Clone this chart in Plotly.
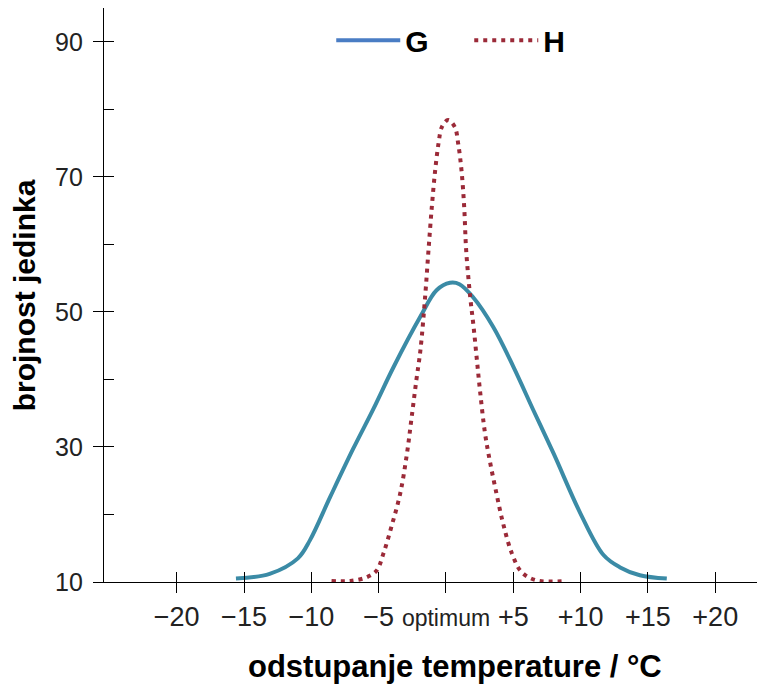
import plotly.graph_objects as go

# Krivulja G (široka tolerancija)
g_x = [-15.6, -13.1, -11.0, -10.1, -8.6, -6.9, -5.4, -3.9, -1.9, -0.7, 0.3,
       1.0, 2.0, 3.5, 5.0, 6.5, 8.0, 10.0, 11.7, 12.9, 14.4, 16.4]
g_y = [10.5, 11.2, 13.5, 16.2, 22.6, 29.7, 35.6, 41.8, 49.3, 53.2, 54.3,
       54.1, 52.2, 47.8, 41.9, 35.4, 29.0, 20.1, 14.0, 12.2, 11.0, 10.5]

# Krivulja H (uska tolerancija)
h_x = [-8.5, -7.1, -5.9, -5.15, -4.65, -4.05, -3.4, -2.9, -2.55, -2.2, -1.9,
       -1.55, -1.3, -1.05, -0.8, -0.55, -0.3, 0.15, 0.65, 0.9, 1.15, 1.35,
       1.5, 1.8, 2.05, 2.3, 2.55, 2.9, 3.25, 3.75, 4.25, 4.9, 5.6, 6.7, 8.85]
h_y = [10.15, 10.15, 10.7, 11.7, 14.2, 18.2, 23.1, 29.0, 34.4, 39.9, 44.3,
       52.2, 59.1, 65.6, 71.0, 75.0, 77.4, 78.4, 77.4, 75.0, 71.0, 65.6,
       59.1, 52.2, 47.8, 42.8, 37.9, 32.0, 28.0, 23.1, 18.6, 14.2, 11.5, 10.25, 10.15]

# Osi
x_ticks = [-20, -15, -10, -5, 0, 5, 10, 15, 20]
x_labels = ["\u221220", "\u221215", "\u221210", "\u22125",
            "<span style='font-size:23px'>optimum</span>",
            "+5", "+10", "+15", "+20"]
y_ticks = [10, 20, 30, 40, 50, 60, 70, 80, 90]
y_labels = ["10", "", "30", "", "50", "", "70", "", "90"]

X_RANGE = [-25.4, 23.1]
Y_RANGE = [10, 95]

G_COLOR = "#3b8ba6"
G_LEGEND = "#4a7dc4"
H_COLOR = "#9b2a38"
FONT = "Liberation Sans, Arial, sans-serif"
H_DASH = "4px,5px"

fig = go.Figure()

fig.add_trace(go.Scatter(x=g_x, y=g_y, mode="lines", line_shape="spline",
                         line=dict(color=G_COLOR, width=4), showlegend=False))
fig.add_trace(go.Scatter(x=h_x, y=h_y, mode="lines", line_shape="spline",
                         line=dict(color=H_COLOR, width=4, dash=H_DASH),
                         showlegend=False))

# samo za legendu (linija G u legendi je plavlja od krivulje)
fig.add_trace(go.Scatter(x=[None], y=[None], mode="lines", name="<b>G</b>",
                         line=dict(color=G_LEGEND, width=4)))
fig.add_trace(go.Scatter(x=[None], y=[None], mode="lines", name="<b>H</b>",
                         line=dict(color=H_COLOR, width=4, dash=H_DASH)))

tick_style = dict(ticklen=10, tickwidth=1.3, tickcolor="black")

fig.update_layout(
    width=767, height=690,
    margin=dict(l=96, r=18, t=0, b=116),
    paper_bgcolor="white", plot_bgcolor="white",
    font=dict(family=FONT, color="#222222"),
    # crtice prelaze preko osi: glavne prema van, "minor" na istim mjestima prema unutra
    xaxis=dict(range=X_RANGE, tickvals=x_ticks, ticktext=x_labels, ticks="outside",
               minor=dict(ticks="inside", tickmode="array", tickvals=x_ticks, **tick_style),
               showline=True, linecolor="black", linewidth=1.3,
               showgrid=False, zeroline=False,
               tickfont=dict(size=27, color="#222222"), **tick_style),
    yaxis=dict(range=Y_RANGE, tickvals=y_ticks, ticktext=y_labels, ticks="outside",
               minor=dict(ticks="inside", tickmode="array", tickvals=y_ticks, **tick_style),
               showline=True, linecolor="black", linewidth=1.3,
               showgrid=False, zeroline=False,
               tickfont=dict(size=25, color="#222222"), ticklabelstandoff=5,
               **tick_style),
    legend=dict(orientation="h", x=0.348, y=0.944, xanchor="left", yanchor="middle",
                font=dict(size=30, color="black", family=FONT),
                itemwidth=64, entrywidth=59, entrywidthmode="pixels",
                bgcolor="rgba(0,0,0,0)"),
    annotations=[
        dict(text="<b>odstupanje temperature / °C</b>", xref="paper", yref="paper",
             x=0.5375, y=-0.148, xanchor="center", yanchor="middle", showarrow=False,
             font=dict(size=31, color="black", family=FONT)),
        dict(text="<b>brojnost jedinka</b>", xref="paper", yref="paper",
             x=-0.122, y=0.5, xanchor="center", yanchor="middle", textangle=-90,
             showarrow=False, font=dict(size=30, color="black", family=FONT)),
    ],
)

fig.write_html("out.html")
